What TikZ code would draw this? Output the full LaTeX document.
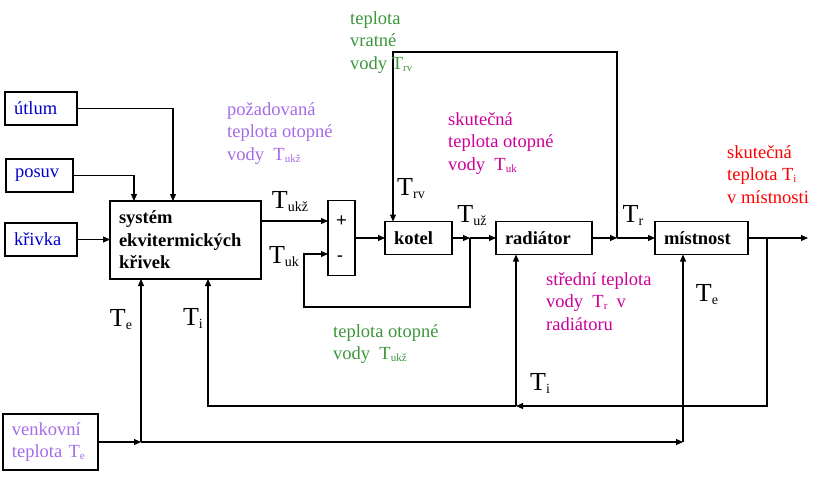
\documentclass[tikz,border=0pt]{standalone}
\usepackage{fontspec}
\setmainfont{Liberation Serif}
\newfontfamily\sumfont{Liberation Sans}
\usetikzlibrary{arrows.meta, positioning}
\definecolor{ctrl}{RGB}{0,0,204}
\definecolor{lilac}{RGB}{166,107,230}
\definecolor{water}{RGB}{60,150,60}
\definecolor{flow}{RGB}{204,0,153}
\definecolor{room}{RGB}{255,0,0}
\newcommand{\Tbig}[1]{T\raisebox{-3pt}{\fontsize{14}{14}\selectfont #1}}
\newcommand{\Tsm}[1]{T\raisebox{-2pt}{\fontsize{11}{11}\selectfont #1}}
\tikzset{
  block/.style={rectangle, draw=black, line width=1.2pt, inner xsep=9pt,
                inner ysep=0pt, outer sep=0pt, align=left, minimum height=33pt,
                font=\fontsize{18.5}{22.5}\selectfont},
  bold/.style={font=\fontsize{18.5}{22.5}\selectfont\bfseries},
  arrow/.style={-{Triangle[length=7pt, width=6pt]}, line width=1.1pt},
  note/.style={anchor=north west, inner sep=0pt, align=left,
               font=\fontsize{18.5}{22.5}\selectfont},
  tlab/.style={inner sep=0pt, font=\fontsize{26}{28}\selectfont},
}
\begin{document}
\begin{tikzpicture}[x=1pt, y=-1pt]
  \useasboundingbox (0,0) rectangle (822,480);

  % inputs
  \node[block, text=ctrl, text width=54pt] (utlum) at (41,108.5) {útlum};
  \node[block, text=ctrl, text width=49pt] (posuv) at (39.5,175.5) {posuv};
  \node[block, text=ctrl, text width=54pt] (krivka) at (41,239.5) {křivka};
  \node[block, bold, text width=133pt, minimum height=78pt] (sys) at (185.5,240)
    {systém\\ekvitermických\\křivek};
  \node[block, text=lilac, text width=77pt, minimum height=56pt] (venk) at (50.5,442)
    {venkovní\\teplota \Tsm{e}};

  % main loop
  \node[block, minimum width=27pt, minimum height=75pt, inner xsep=0pt] (sum) at (341.5,238) {};
  \node[font=\sumfont\fontsize{18.5}{20}\selectfont] (plus) at (341.5,221) {+};
  \node[font=\sumfont\fontsize{18.5}{20}\selectfont] (minus) at (340,259) {-};
  \node[block, bold, right=30pt of sum, text width=49pt] (kotel) {kotel};
  \node[block, bold, right=44pt of kotel, text width=78pt] (rad) {radiátor};
  \node[block, bold, right=63pt of rad, text width=75pt] (mist) {místnost};

  \coordinate (j1) at (470,238);
  \coordinate (j2) at (617,238);
  \coordinate (j3) at (767,238);
  \coordinate (out) at (808,238);
  \coordinate (trvtop) at (393,52);
  \coordinate (tukbot) at (304,307);
  \coordinate (tij) at (516,406);
  \coordinate (tej) at (141,442);
  \coordinate (ter) at (683,442);

  \draw[arrow] (utlum) -| ([xshift=-12.5pt]sys.north);
  \draw[arrow] (posuv) -| ([xshift=-51.5pt]sys.north);
  \draw[arrow] (krivka) -- (krivka -| sys.west);
  \draw[arrow] (sys.east |- plus) -- (sum.west |- plus);
  \draw[arrow] (j1) |- (tukbot) |- ([yshift=-16pt]sum.west);
  \draw[arrow] (sum) -- (kotel);
  \draw[arrow] (kotel) -- (j1);
  \draw[arrow] (j1) -- (rad);
  \draw[arrow] (rad) -- (j2);
  \draw[arrow] (j2) -- (mist);
  \draw[arrow] (j2) |- (trvtop) -- (trvtop |- kotel.north);
  \draw[arrow] (mist) -- (out);
  \draw[arrow] (j3) |- (tij);
  \draw[arrow] (tij) -- (tij |- rad.south);
  \draw[arrow] (tij) -| ([xshift=22.5pt]sys.south);
  \draw[arrow] (venk) -- (tej);
  \draw[arrow] (tej) -- (tej |- sys.south);
  \draw[arrow] (tej) -- (ter);
  \draw[arrow] (ter) -- (ter |- mist.south);

  % signal names
  \node[tlab] (tukz) at (290,202) {\Tbig{ukž}};
  \node[tlab] (tuk) at (284,257) {\Tbig{uk}};
  \node[tlab] (trv) at (411,189) {\Tbig{rv}};
  \node[tlab] (tuz) at (472,216) {\Tbig{už}};
  \node[tlab] (tr) at (633,215) {\Tbig{r}};
  \node[tlab] (ter2) at (707,295) {\Tbig{e}};
  \node[tlab] (ti2) at (540,383) {\Tbig{i}};
  \node[tlab] (te1) at (121,320) {\Tbig{e}};
  \node[tlab] (ti1) at (193,318) {\Tbig{i}};

  % descriptions
  \node[note, text=water] (vrat) at (350,11) {teplota\\vratné\\vody \Tsm{rv}};
  \node[note, text=lilac] (poz) at (227,102) {požadovaná\\teplota otopné\\vody~ \Tsm{ukž}};
  \node[note, text=flow] (skut) at (448,112) {skutečná\\teplota otopné\\vody~ \Tsm{uk}};
  \node[note, text=room] (skti) at (727,145) {skutečná\\teplota \Tsm{i}\\v místnosti};
  \node[note, text=flow] (stred) at (546,272) {střední teplota\\vody~ \Tsm{r}~ v\\radiátoru};
  \node[note, text=water] (otop) at (333,324) {teplota otopné\\vody~ \Tsm{ukž}};
\end{tikzpicture}
\end{document}
